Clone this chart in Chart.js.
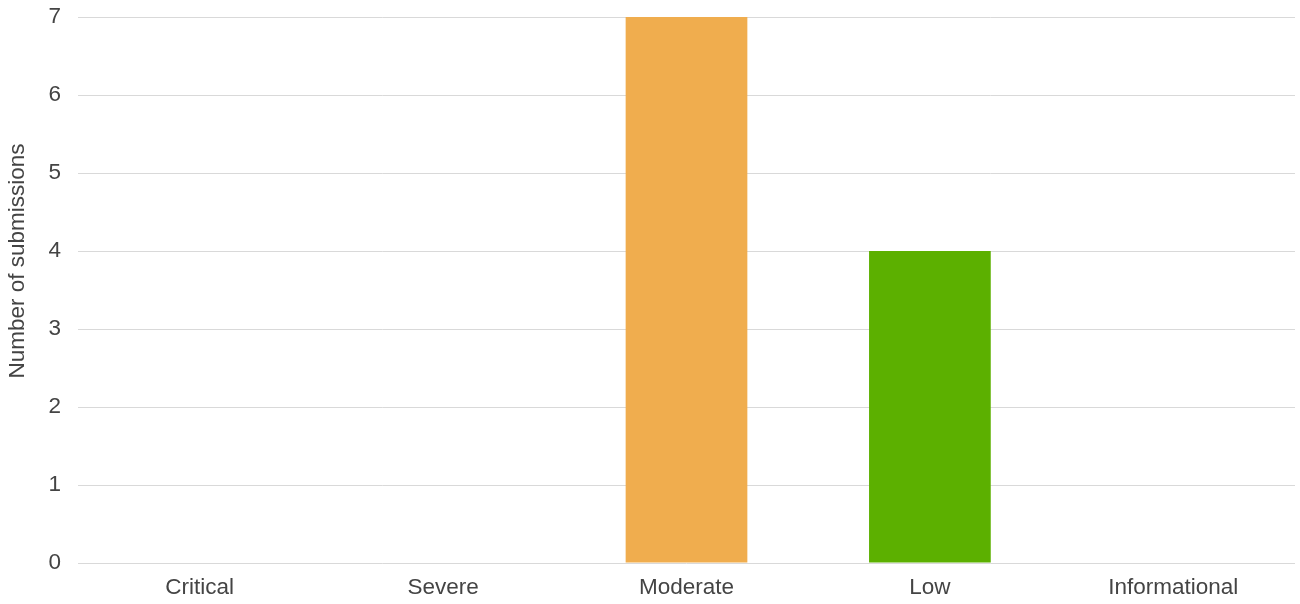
<!DOCTYPE html>
<html>
<head>
<meta charset="utf-8">
<script src="https://cdn.jsdelivr.net/npm/chart.js@4"></script>
<style>
  html, body { margin: 0; padding: 0; background: #fff; }
  #wrap { width: 1300px; height: 604px; }
</style>
</head>
<body>
<div id="wrap"><canvas id="severityChart"></canvas></div>
<script>
const categories = ["Critical", "Severe", "Moderate", "Low", "Informational"];
const submissions = [0, 0, 7, 4, 0];
const barColors = ["#d9534f", "#e8743b", "#f0ad4e", "#5cb000", "#5bc0de"];
const yTicks = [0, 1, 2, 3, 4, 5, 6, 7];
const yTitle = "Number of submissions";

Chart.defaults.font.family = "'Liberation Sans', Arial, sans-serif";
Chart.defaults.color = "#444";

// y axis title sits a bit above the middle of the plot, so draw it ourselves
const yTitlePlugin = {
  id: "yTitle",
  afterDraw(chart) {
    const ctx = chart.ctx;
    ctx.save();
    ctx.translate(17.5, 261);
    ctx.rotate(-Math.PI / 2);
    ctx.font = "22.5px 'Liberation Sans', Arial, sans-serif";
    ctx.fillStyle = "#444";
    ctx.textAlign = "center";
    ctx.textBaseline = "middle";
    ctx.fillText(yTitle, 0, 0);
    ctx.restore();
  },
};

new Chart(document.getElementById("severityChart").getContext("2d"), {
  type: "bar",
  data: {
    labels: categories,
    datasets: [
      {
        label: "Submissions",
        data: submissions,
        backgroundColor: barColors,
        barPercentage: 0.5,
        categoryPercentage: 1,
      },
    ],
  },
  options: {
    responsive: true,
    maintainAspectRatio: false,
    animation: false,
    layout: { padding: { top: 17, right: 5, left: 0, bottom: 0 } },
    scales: {
      x: {
        grid: { display: false, drawTicks: false },
        border: { display: false },
        ticks: { font: { size: 22.5 }, color: "#444", padding: 11 },
        afterFit: (axis) => {
          axis.height = 41;
          axis.paddingLeft = 0;
          axis.paddingRight = 0;
        },
      },
      y: {
        min: 0,
        max: yTicks[yTicks.length - 1],
        afterBuildTicks: (axis) => {
          axis.ticks = yTicks.map((v) => ({ value: v }));
        },
        grid: { color: "#d9d9d9", drawTicks: false },
        border: { display: false },
        ticks: { font: { size: 22.5 }, color: "#444", padding: 17 },
        afterFit: (axis) => {
          axis.width = 78;
          axis.paddingTop = 0;
          axis.paddingBottom = 0;
        },
      },
    },
    plugins: {
      legend: { display: false },
      tooltip: { enabled: false },
    },
  },
  plugins: [yTitlePlugin],
});
</script>
</body>
</html>
